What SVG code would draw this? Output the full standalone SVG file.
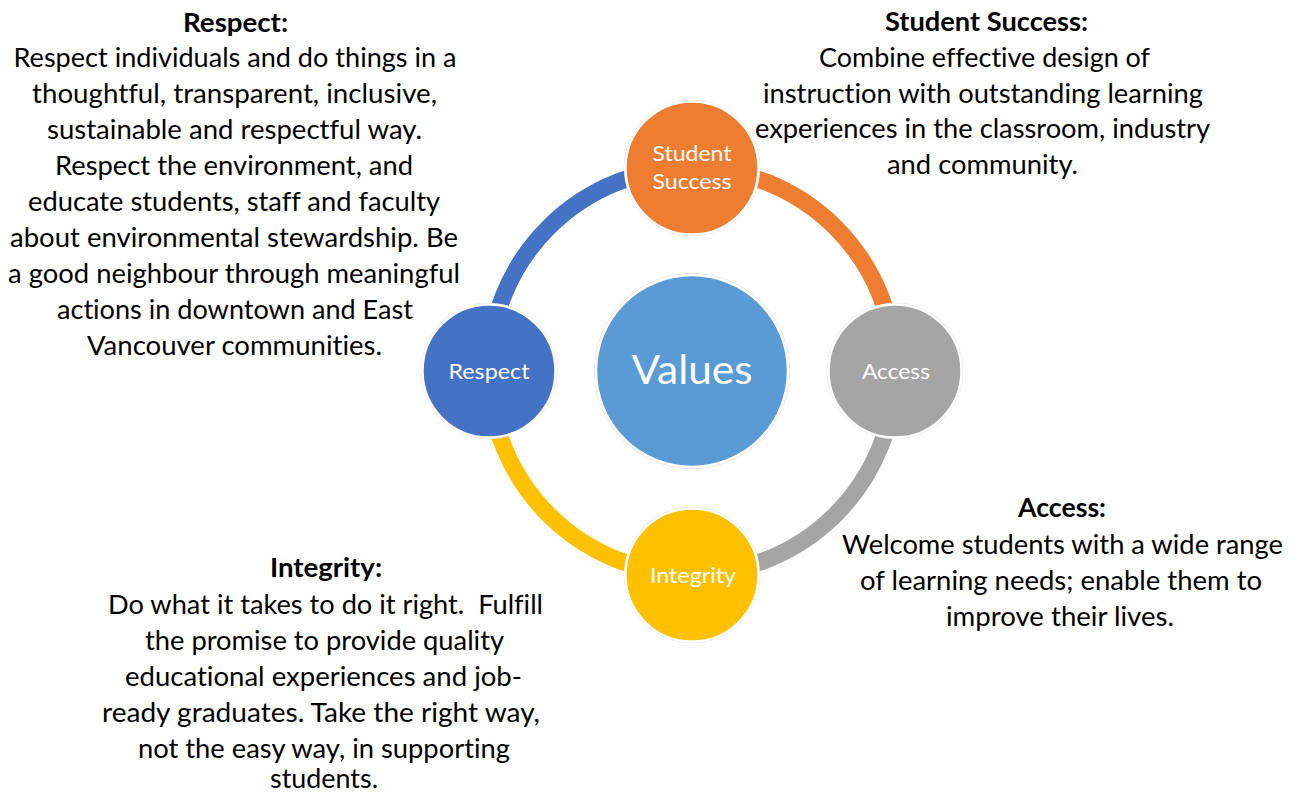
<svg xmlns="http://www.w3.org/2000/svg" width="1298" height="793" viewBox="0 0 1298 793">
<style>
text{font-variant-ligatures:none;font-feature-settings:"liga" 0,"clig" 0,"dlig" 0}
.body{font-family:Lato,"Open Sans",sans-serif;font-size:26.5px;fill:#000;text-anchor:middle;white-space:pre}
.head{font-weight:700}
.lbl{font-family:Lato,"Open Sans",sans-serif;font-size:21.5px;fill:#fff;text-anchor:middle}
.big{font-family:Lato,"Open Sans",sans-serif;font-size:41px;fill:#fff;text-anchor:middle}
.arc{fill:none;stroke-width:17}
.node{stroke:#fff;stroke-width:2.5}
.halo{fill:none;stroke:#d6d6d6;stroke-width:0.8}
</style>
<rect width="1298" height="793" fill="#fff"/>
<g id="connectors">
<path class="arc" stroke="#ED7D31" d="M692,168 A203,203 0 0 1 895,371"/>
<path class="arc" stroke="#A5A5A5" d="M895,371 A203,203 0 0 1 692,574"/>
<path class="arc" stroke="#FFC000" d="M692,574 A203,203 0 0 1 489,371"/>
<path class="arc" stroke="#4472C4" d="M489,371 A203,203 0 0 1 692,168"/>
</g>
<g id="values">
<circle class="halo" cx="692" cy="371" r="97.5"/>
<circle class="node" cx="692" cy="371" r="96" fill="#5B9BD5"/>
<text class="big" x="692" y="384" textLength="121" lengthAdjust="spacingAndGlyphs">Values</text>
</g>
<g id="student-success">
<circle class="halo" cx="692" cy="168" r="67.8"/>
<circle class="node" cx="692" cy="168" r="66.5" fill="#ED7D31"/>
<text class="lbl" x="692" y="161" textLength="79" lengthAdjust="spacingAndGlyphs">Student</text>
<text class="lbl" x="692" y="188.5" textLength="79" lengthAdjust="spacingAndGlyphs">Success</text>
</g>
<g id="access">
<circle class="halo" cx="895" cy="371" r="67.8"/>
<circle class="node" cx="895" cy="371" r="66.5" fill="#A5A5A5"/>
<text class="lbl" x="896" y="378.5" textLength="68" lengthAdjust="spacingAndGlyphs">Access</text>
</g>
<g id="integrity">
<circle class="halo" cx="692" cy="575" r="67.8"/>
<circle class="node" cx="692" cy="575" r="66.5" fill="#FFC000"/>
<text class="lbl" x="693" y="582.5" textLength="86" lengthAdjust="spacingAndGlyphs">Integrity</text>
</g>
<g id="respect">
<circle class="halo" cx="489" cy="371" r="67.8"/>
<circle class="node" cx="489" cy="371" r="66.5" fill="#4472C4"/>
<text class="lbl" x="489" y="378.5" textLength="81" lengthAdjust="spacingAndGlyphs">Respect</text>
</g>
<g id="respect-text">
<text class="body head" x="235.5" y="32" textLength="105" lengthAdjust="spacingAndGlyphs">Respect:</text>
<text class="body" x="235" y="67" textLength="443" lengthAdjust="spacingAndGlyphs">Respect individuals and do things in a</text>
<text class="body" x="234.5" y="103" textLength="405" lengthAdjust="spacingAndGlyphs">thoughtful, transparent, inclusive,</text>
<text class="body" x="234.5" y="139" textLength="375" lengthAdjust="spacingAndGlyphs">sustainable and respectful way.</text>
<text class="body" x="234" y="175" textLength="358" lengthAdjust="spacingAndGlyphs">Respect the environment, and</text>
<text class="body" x="234" y="211" textLength="412" lengthAdjust="spacingAndGlyphs">educate students, staff and faculty</text>
<text class="body" x="234" y="247" textLength="448" lengthAdjust="spacingAndGlyphs">about environmental stewardship. Be</text>
<text class="body" x="234" y="283" textLength="452" lengthAdjust="spacingAndGlyphs">a good neighbour through meaningful</text>
<text class="body" x="235" y="319" textLength="356" lengthAdjust="spacingAndGlyphs">actions in downtown and East</text>
<text class="body" x="234.5" y="355" textLength="295" lengthAdjust="spacingAndGlyphs">Vancouver communities.</text>
</g>
<g id="student-success-text">
<text class="body head" x="986.5" y="31" textLength="203" lengthAdjust="spacingAndGlyphs">Student Success:</text>
<text class="body" x="984.5" y="67" textLength="331" lengthAdjust="spacingAndGlyphs">Combine effective design of</text>
<text class="body" x="983" y="102.5" textLength="440" lengthAdjust="spacingAndGlyphs">instruction with outstanding learning</text>
<text class="body" x="982.5" y="138" textLength="455" lengthAdjust="spacingAndGlyphs">experiences in the classroom, industry</text>
<text class="body" x="982.5" y="174" textLength="191" lengthAdjust="spacingAndGlyphs">and community.</text>
</g>
<g id="access-text">
<text class="body head" x="1062" y="517" textLength="88" lengthAdjust="spacingAndGlyphs">Access:</text>
<text class="body" x="1062.5" y="554" textLength="441" lengthAdjust="spacingAndGlyphs">Welcome students with a wide range</text>
<text class="body" x="1061" y="590" textLength="402" lengthAdjust="spacingAndGlyphs">of learning needs; enable them to</text>
<text class="body" x="1060" y="626" textLength="228" lengthAdjust="spacingAndGlyphs">improve their lives.</text>
</g>
<g id="integrity-text">
<text class="body head" x="326" y="577" textLength="112" lengthAdjust="spacingAndGlyphs">Integrity:</text>
<text class="body" x="325.5" y="614" textLength="435" lengthAdjust="spacingAndGlyphs">Do what it takes to do it right.  Fulfill</text>
<text class="body" x="324.5" y="650" textLength="359" lengthAdjust="spacingAndGlyphs">the promise to provide quality</text>
<text class="body" x="323.5" y="686" textLength="397" lengthAdjust="spacingAndGlyphs">educational experiences and job-</text>
<text class="body" x="321" y="722" textLength="438" lengthAdjust="spacingAndGlyphs">ready graduates. Take the right way,</text>
<text class="body" x="324" y="758" textLength="372" lengthAdjust="spacingAndGlyphs">not the easy way, in supporting</text>
<text class="body" x="324" y="788" textLength="108" lengthAdjust="spacingAndGlyphs">students.</text>
</g>
</svg>
